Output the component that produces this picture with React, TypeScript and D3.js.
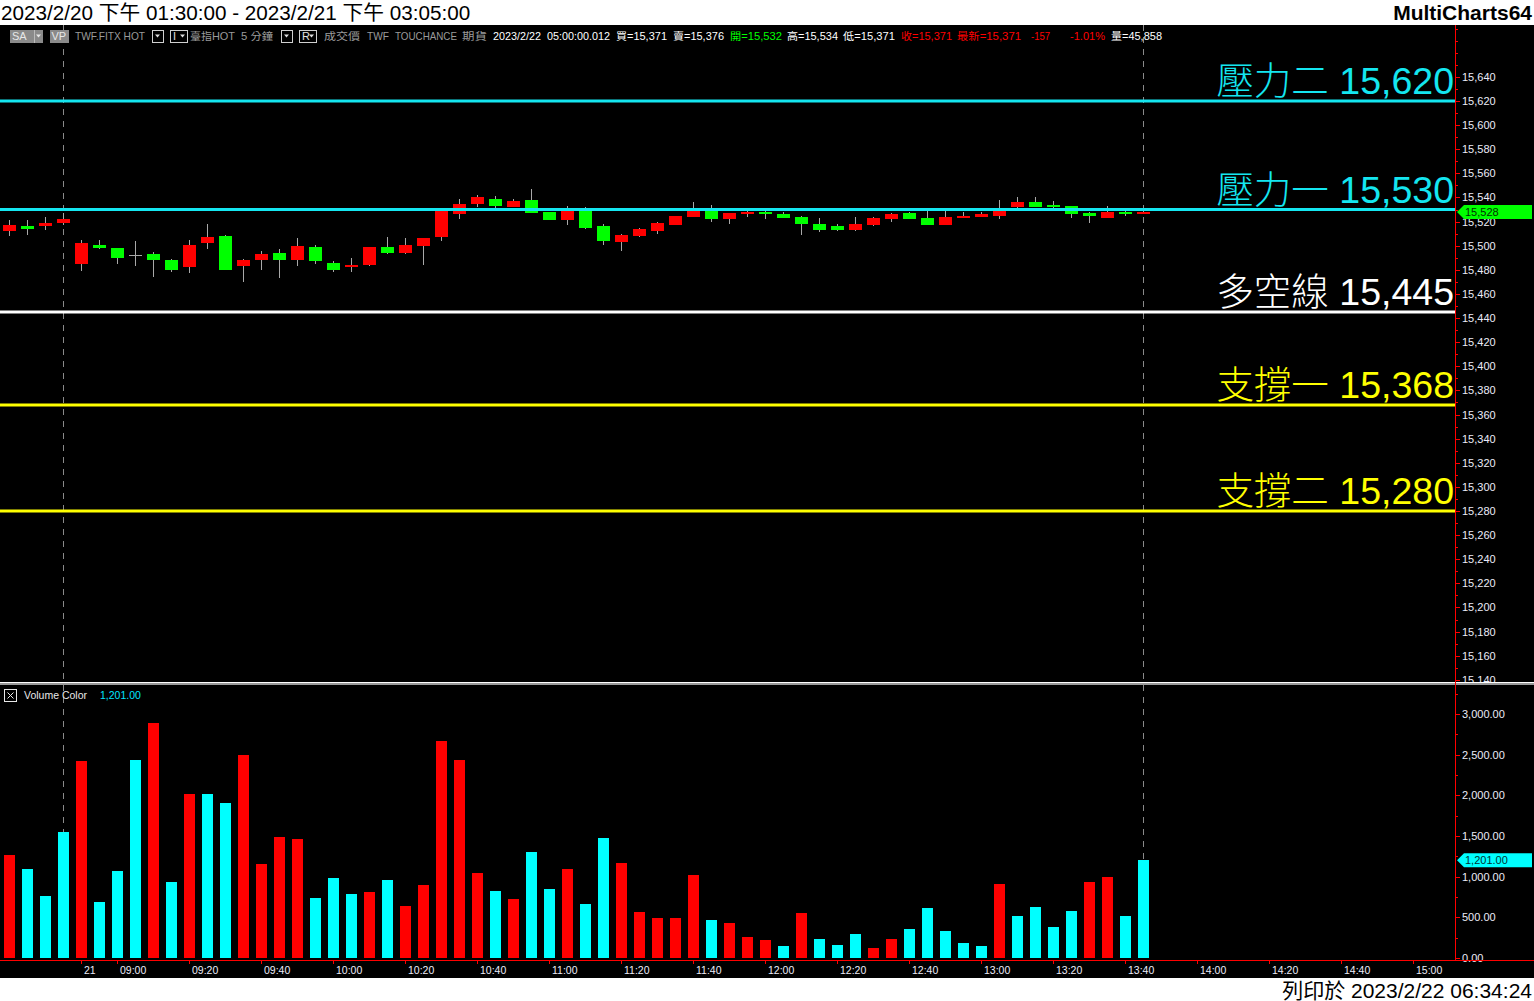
import React from "react";
import * as d3 from "d3";

// ---------- text ----------
const titleText = "2023/2/20 下午 01:30:00 - 2023/2/21 下午 03:05:00";
const brandText = "MultiCharts64";
const printedText = "列印於 2023/2/22 06:34:24";

// ---------- candle data (5-minute bars) ----------
const opens = [
  15512, 15516, 15516, 15519, 15485, 15501, 15498, 15492, 15493, 15488,
  15482, 15502, 15508, 15483, 15488, 15494, 15488, 15499, 15486, 15482,
  15484, 15499, 15494, 15500, 15507, 15526, 15535, 15539, 15532, 15538,
  15528, 15521, 15531, 15516, 15503, 15508, 15512, 15517, 15524, 15531,
  15522, 15526, 15528, 15526, 15524, 15518, 15516, 15513, 15517, 15522,
  15527, 15523, 15517, 15523, 15524, 15525, 15532, 15536, 15534, 15533,
  15527, 15523, 15528, 15526,
];
const highs = [
  15521, 15521, 15524, 15527, 15505, 15505, 15498, 15504, 15495, 15489,
  15505, 15518, 15509, 15489, 15496, 15497, 15506, 15501, 15487, 15490,
  15499, 15507, 15506, 15506, 15530, 15539, 15542, 15541, 15539, 15547,
  15528, 15533, 15532, 15518, 15510, 15515, 15520, 15525, 15536, 15534,
  15527, 15529, 15529, 15528, 15525, 15523, 15518, 15524, 15524, 15527,
  15528, 15531, 15531, 15528, 15528, 15538, 15540, 15540, 15537, 15533,
  15528, 15533, 15529, 15530,
];
const lows = [
  15508, 15509, 15513, 15517, 15479, 15497, 15485, 15483, 15474, 15478,
  15477, 15497, 15480, 15470, 15480, 15473, 15483, 15485, 15478, 15478,
  15483, 15493, 15493, 15484, 15504, 15522, 15532, 15530, 15532, 15527,
  15521, 15517, 15514, 15501, 15496, 15507, 15510, 15517, 15524, 15520,
  15518, 15524, 15522, 15523, 15509, 15511, 15512, 15512, 15516, 15520,
  15522, 15517, 15517, 15523, 15524, 15522, 15531, 15532, 15530, 15523,
  15519, 15523, 15525, 15526,
];
const closes = [
  15517, 15514, 15519, 15522, 15502, 15498, 15490, 15492, 15488, 15480,
  15501, 15507, 15480, 15488, 15493, 15488, 15500, 15487, 15480, 15484,
  15499, 15494, 15501, 15506, 15530, 15535, 15540, 15533, 15537, 15527,
  15521, 15531, 15515, 15504, 15509, 15514, 15519, 15525, 15531, 15522,
  15527, 15528, 15526, 15523, 15518, 15513, 15513, 15518, 15523, 15526,
  15522, 15517, 15524, 15525, 15526, 15531, 15536, 15532, 15532, 15526,
  15525, 15528, 15526, 15528,
];

// ---------- volume data ----------
const volumes = [
  1266, 1094, 762, 1549, 2422, 689, 1070, 2434, 2889, 934,
  2016, 2016, 1906, 2496, 1156, 1488, 1463, 738, 984, 787,
  812, 959, 639, 898, 2668, 2434, 1045, 824, 725, 1303,
  848, 1094, 664, 1475, 1168, 566, 492, 492, 1020, 467,
  430, 258, 221, 148, 553, 234, 160, 295, 123, 234,
  357, 615, 332, 184, 148, 910, 516, 627, 381, 578,
  934, 996, 516, 1201,
];
// 1 = up volume (red), 0 = down volume (cyan)
const volumeUp = [
  1, 0, 0, 0, 1, 0, 0, 0, 1, 0,
  1, 0, 0, 1, 1, 1, 1, 0, 0, 0,
  1, 0, 1, 1, 1, 1, 1, 0, 1, 0,
  0, 1, 0, 0, 1, 1, 1, 1, 1, 0,
  1, 1, 1, 0, 1, 0, 0, 0, 1, 1,
  0, 0, 0, 0, 0, 1, 0, 0, 0, 0,
  1, 1, 0, 0,
];

// ---------- levels ----------
const levelNames = ["壓力二", "壓力一", "多空線", "支撐一", "支撐二"];
const levelValues = [15620, 15530, 15445, 15368, 15280];
const levelColors = ["#14e6f0", "#14e6f0", "#ffffff", "#ffff00", "#ffff00"];

// ---------- axes ----------
const priceTicks = d3.range(15140, 15641, 20);
const priceMinorTicks = d3.range(15140, 15681, 10);
const volumeTicks = [0, 500, 1000, 1500, 2000, 2500, 3000];
const volumeMinorTicks = d3.range(0, 3251, 250);
const timeLabels = [
  "21", "09:00", "09:20", "09:40", "10:00", "10:20", "10:40", "11:00", "11:20",
  "11:40", "12:00", "12:20", "12:40", "13:00", "13:20", "13:40", "14:00",
  "14:20", "14:40", "15:00",
];
const firstDayBar = 4; // first bar of the 2/21 day session (ends 08:50)
const firstDayBarTime = "08:50";
const cursorBars = [3, 63];
const lastPrice = 15528;
const lastVolume = 1201;

const toMin = (t: string) => {
  const [h, m] = t.split(":").map(Number);
  return h * 60 + m;
};
const barOfLabel = (t: string) =>
  t.includes(":") ? firstDayBar + (toMin(t) - toMin(firstDayBarTime)) / 5 : firstDayBar;

const FONT = "'Liberation Sans', Arial, 'Noto Sans CJK TC', sans-serif";
const CJK = "'Noto Sans CJK TC', 'Liberation Sans', sans-serif";

export default function App() {
  const W = 1534;
  const H = 1001;
  const plotRight = 1455;
  const priceTop = 25;
  const priceBottom = 683;
  const xAxisY = 960;

  const x = d3.scaleLinear().domain([0, 1]).range([9.5, 27.5]);
  const y = d3.scaleLinear().domain([15280, 15620]).range([511, 101]);
  const yv = d3.scaleLinear().domain([0, 3000]).range([958, 714]);
  const bodyW = 13;
  const volW = 11;
  const fmt = d3.format(",");
  const fmtV = d3.format(",.2f");

  const candles = opens.map((o, i) => ({
    i,
    o,
    h: highs[i],
    l: lows[i],
    c: closes[i],
  }));

  const infoY = 40;

  const dropBox = (bx: number, label?: string) => (
    <g>
      <rect x={bx + 0.5} y={30.5} width={label ? 17 : 11} height={12} fill="#000" stroke="#d0d0d0" />
      {label && (
        <text x={bx + 3} y={infoY} fill="#e0e0e0" fontSize={11} fontFamily={FONT}>
          {label}
        </text>
      )}
      <path d={`M${bx + (label ? 10 : 3)},34.5 l5,0 l-2.5,3 z`} fill="#e0e0e0" />
    </g>
  );

  const info = (
    tx: number,
    s: string,
    color: string,
    len?: number
  ) => (
    <text
      x={tx}
      y={infoY}
      fill={color}
      fontSize={10.5}
      textLength={len}
      lengthAdjust={len ? "spacingAndGlyphs" : undefined}
    >
      {s}
    </text>
  );

  return (
    <svg
      width={W}
      height={H}
      style={{ position: "absolute", left: 0, top: 0, display: "block" }}
      fontFamily={FONT}
    >
      <defs>
        <clipPath id="priceClip">
          <rect x={0} y={priceTop} width={plotRight} height={priceBottom - priceTop} />
        </clipPath>
        <clipPath id="priceAxisClip">
          <rect x={plotRight} y={priceTop} width={W - plotRight} height={priceBottom - priceTop} />
        </clipPath>
      </defs>

      {/* backgrounds */}
      <rect x={0} y={0} width={W} height={H} fill="#000" />
      <rect x={0} y={0} width={W} height={25} fill="#fff" />
      <rect x={0} y={978} width={W} height={H - 978} fill="#fff" />

      {/* title bar */}
      <text x={1} y={20} fontSize={20.7} fill="#000" fontFamily={FONT}>
        {titleText}
      </text>
      <text x={1532} y={20} fontSize={21} fontWeight="bold" fill="#000" textAnchor="end">
        {brandText}
      </text>

      {/* info row */}
      <g>
        <rect x={10} y={30} width={33} height={13} fill="#8a8a8a" />
        <line x1={34.5} x2={34.5} y1={30} y2={43} stroke="#bbb" />
        <text x={12} y={infoY} fill="#e8e8e8" fontSize={11}>SA</text>
        <path d="M36,34.5 l5,0 l-2.5,3 z" fill="#e8e8e8" />
        <rect x={50} y={30} width={19} height={13} fill="#8a8a8a" />
        <text x={51.5} y={infoY} fill="#e8e8e8" fontSize={11}>VP</text>
        {info(75, "TWF.FITX HOT", "#9a9a9a", 70)}
        {dropBox(152)}
        {dropBox(170, "I")}
        {info(190, "臺指HOT", "#9a9a9a", 45)}
        {info(241, "5 分鐘", "#9a9a9a", 32)}
        {dropBox(281)}
        {dropBox(299, "R")}
        {info(324, "成交價", "#9a9a9a", 36)}
        {info(367, "TWF", "#9a9a9a", 22)}
        {info(395, "TOUCHANCE", "#9a9a9a", 62)}
        {info(462, "期貨", "#9a9a9a", 25)}
        {info(493, "2023/2/22", "#ffffff", 48)}
        {info(547, "05:00:00.012", "#ffffff", 63)}
        {info(616, "買=15,371", "#ffffff", 51)}
        {info(673, "賣=15,376", "#ffffff", 51)}
        {info(730, "開=15,532", "#00ff00", 52)}
        {info(787, "高=15,534", "#ffffff", 51)}
        {info(843, "低=15,371", "#ffffff", 52)}
        {info(901, "收=15,371", "#ff0000", 51)}
        {info(957, "最新=15,371", "#ff0000", 64)}
        {info(1031, "-157", "#ff0000", 19)}
        {info(1070, "-1.01%", "#ff0000", 35)}
        {info(1111, "量=45,858", "#ffffff", 51)}
      </g>

      {/* cursor dashed lines */}
      {cursorBars.map((b) => (
        <line
          key={b}
          x1={Math.round(x(b)) - 0.5}
          x2={Math.round(x(b)) - 0.5}
          y1={priceTop}
          y2={xAxisY}
          stroke="#8a8a8a"
          strokeDasharray="6,6"
        />
      ))}

      {/* candles */}
      <g clipPath="url(#priceClip)" shapeRendering="crispEdges">
        {candles.map((d) => {
          const cx = x(d.i);
          const up = d.c > d.o;
          const down = d.c < d.o;
          const top = y(Math.max(d.o, d.c));
          const bot = y(Math.min(d.o, d.c));
          return (
            <g key={d.i}>
              <line x1={cx} x2={cx} y1={y(d.h)} y2={y(d.l)} stroke="#a8a8a8" />
              {up || down ? (
                <rect
                  x={cx - bodyW / 2}
                  y={top}
                  width={bodyW}
                  height={Math.max(1.5, bot - top)}
                  fill={up ? "#ff0000" : "#00ff00"}
                />
              ) : (
                <line x1={cx - bodyW / 2} x2={cx + bodyW / 2} y1={top} y2={top} stroke="#a8a8a8" />
              )}
            </g>
          );
        })}
      </g>

      {/* levels */}
      <g clipPath="url(#priceClip)">
        {levelValues.map((v, k) => (
          <g key={v}>
            <line x1={0} x2={plotRight} y1={y(v)} y2={y(v)} stroke={levelColors[k]} strokeWidth={3} />
            <text
              x={plotRight - 1}
              y={y(v) - 7}
              textAnchor="end"
              fill={levelColors[k]}
              fontSize={37.5}
            >
              <tspan fontFamily={CJK} fontWeight={300}>{levelNames[k]}</tspan>
              <tspan fontFamily={FONT}>{" " + fmt(v)}</tspan>
            </text>
          </g>
        ))}
      </g>

      {/* price axis */}
      <g clipPath="url(#priceAxisClip)" shapeRendering="crispEdges">
        {priceMinorTicks.map((v) => (
          <line key={"m" + v} x1={plotRight} x2={plotRight + 3} y1={Math.round(y(v)) + 0.5} y2={Math.round(y(v)) + 0.5} stroke="#ff0000" />
        ))}
        {priceTicks.map((v) => (
          <g key={v}>
            <line x1={plotRight} x2={plotRight + 5} y1={Math.round(y(v)) + 0.5} y2={Math.round(y(v)) + 0.5} stroke="#ff0000" />
            <text x={plotRight + 7} y={y(v) + 4} fill="#ececf8" fontSize={11} shapeRendering="auto">
              {fmt(v)}
            </text>
          </g>
        ))}
      </g>
      <g>
        <polygon
          points={`${plotRight + 2},${y(lastPrice)} ${plotRight + 9},${y(lastPrice) - 7} ${W - 2},${y(lastPrice) - 7} ${W - 2},${y(lastPrice) + 7} ${plotRight + 9},${y(lastPrice) + 7}`}
          fill="#00ff00"
        />
        <text x={plotRight + 10} y={y(lastPrice) + 4} fill="#003300" fontSize={11}>
          {fmt(lastPrice)}
        </text>
      </g>

      {/* panel separator */}
      <rect x={0} y={682} width={W} height={1} fill="#ffffff" />
      <rect x={0} y={683} width={W} height={2} fill="#9a9a9a" />

      {/* volume header */}
      <g>
        <rect x={4.5} y={689.5} width={12} height={12} fill="none" stroke="#e8e8e8" />
        <path d="M7.5,692.5 L13.5,698.5 M13.5,692.5 L7.5,698.5" stroke="#e8e8e8" />
        <text x={24} y={699} fill="#e8e8e8" fontSize={10.5}>Volume Color</text>
        <text x={100} y={699} fill="#00e5ff" fontSize={10.5}>{fmtV(lastVolume)}</text>
      </g>

      {/* volume bars */}
      <g shapeRendering="crispEdges">
        {volumes.map((v, i) => (
          <rect
            key={i}
            x={Math.round(x(i) - volW / 2)}
            y={yv(v)}
            width={volW}
            height={yv(0) - yv(v)}
            fill={volumeUp[i] ? "#ff0000" : "#00ffff"}
          />
        ))}
      </g>

      {/* volume axis */}
      <g shapeRendering="crispEdges">
        {volumeMinorTicks.map((v) => (
          <line key={"m" + v} x1={plotRight} x2={plotRight + 3} y1={Math.round(yv(v)) + 0.5} y2={Math.round(yv(v)) + 0.5} stroke="#ff0000" />
        ))}
        {volumeTicks.map((v) => (
          <g key={v}>
            <line x1={plotRight} x2={plotRight + 5} y1={Math.round(yv(v)) + 0.5} y2={Math.round(yv(v)) + 0.5} stroke="#ff0000" />
            <text x={plotRight + 7} y={yv(v) + 4} fill="#ececf8" fontSize={11} shapeRendering="auto">
              {fmtV(v)}
            </text>
          </g>
        ))}
      </g>
      <g>
        <polygon
          points={`${plotRight + 2},${yv(lastVolume)} ${plotRight + 9},${yv(lastVolume) - 7} ${W - 2},${yv(lastVolume) - 7} ${W - 2},${yv(lastVolume) + 7} ${plotRight + 9},${yv(lastVolume) + 7}`}
          fill="#00ffff"
        />
        <text x={plotRight + 10} y={yv(lastVolume) + 4} fill="#003333" fontSize={11}>
          {fmtV(lastVolume)}
        </text>
      </g>

      {/* axis lines */}
      <line x1={plotRight + 0.5} x2={plotRight + 0.5} y1={priceTop} y2={xAxisY} stroke="#ff0000" shapeRendering="crispEdges" />
      <line x1={0} x2={W} y1={xAxisY + 0.5} y2={xAxisY + 0.5} stroke="#ff0000" strokeWidth={1.5} shapeRendering="crispEdges" />

      {/* time axis */}
      <g>
        {timeLabels.map((t) => {
          const xx = Math.round(x(barOfLabel(t))) - 0.5;
          return (
            <g key={t}>
              <line x1={xx} x2={xx} y1={xAxisY} y2={xAxisY + 4} stroke="#ff0000" shapeRendering="crispEdges" />
              <text x={xx + 2.5} y={974} fill="#ececf8" fontSize={10.5}>
                {t}
              </text>
            </g>
          );
        })}
      </g>

      {/* footer */}
      <text x={1532} y={998} textAnchor="end" fontSize={21} fill="#000">
        {printedText}
      </text>
    </svg>
  );
}
